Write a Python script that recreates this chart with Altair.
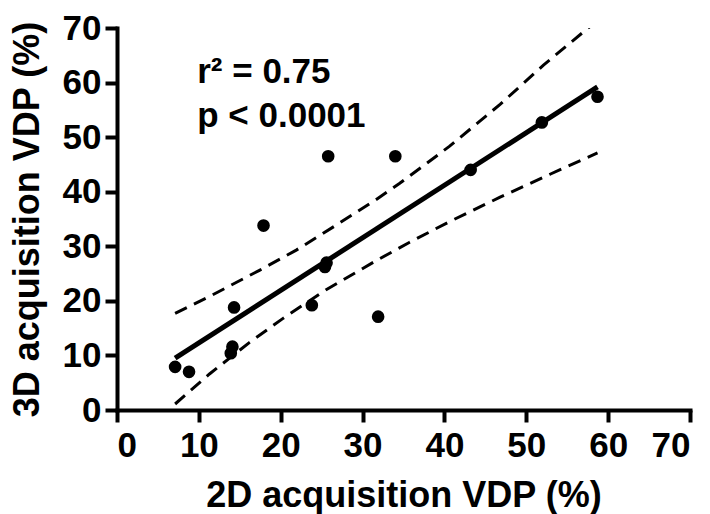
import altair as alt
import pandas as pd

# scatter data (2D vs 3D acquisition VDP, %)
x2d = [7.1, 8.8, 13.9, 14.1, 14.3, 17.9, 23.8, 25.4, 25.6, 25.8, 31.9, 34.0, 43.2, 51.9, 58.7]
y3d = [7.9, 7.0, 10.4, 11.6, 18.8, 33.8, 19.2, 26.2, 27.0, 46.5, 17.1, 46.5, 44.0, 52.7, 57.4]

# regression line end points
fit_x = [7.1, 58.7]
fit_y = [9.5, 59.2]

# 95% confidence band
up_x = [7.1, 11.3, 17.4, 21.9, 26.8, 31.6, 34.5, 40.6, 46.8, 52.1, 57.8, 58.7]
up_y = [17.7, 20.8, 25.6, 29.3, 33.9, 38.5, 41.5, 48.3, 56.0, 63.2, 70.3, 71.4]
lo_x = [7.1, 11.3, 16.2, 20.2, 25.5, 31.7, 35.7, 40.6, 46.8, 52.9, 58.7]
lo_y = [1.1, 6.6, 12.4, 16.7, 22.0, 27.4, 30.7, 34.5, 39.0, 43.2, 47.1]

ticks = [0, 10, 20, 30, 40, 50, 60, 70]

ann_text = ["r\u00b2 = 0.75", "p < 0.0001"]
ann_x = [9.8, 9.8]
ann_y = [59.9, 51.9]

FONT = "Liberation Sans"

pts = pd.DataFrame({"x": x2d, "y": y3d})
fit = pd.DataFrame({"x": fit_x, "y": fit_y})
up = pd.DataFrame({"x": up_x, "y": up_y, "o": list(range(len(up_x)))})
lo = pd.DataFrame({"x": lo_x, "y": lo_y, "o": list(range(len(lo_x)))})
ann = pd.DataFrame({"t": ann_text, "x": ann_x, "y": ann_y})

xscale = alt.Scale(domain=[0, 70], nice=False, zero=False)
yscale = alt.Scale(domain=[0, 70], nice=False, zero=False)

xaxis = alt.Axis(values=ticks, title="2D acquisition VDP (%)", titleY=96,
                 titleBaseline="alphabetic", labelPadding=6)
yaxis = alt.Axis(values=ticks, title="3D acquisition VDP (%)", titleX=-90,
                 titleAngle=270, titleBaseline="middle", labelPadding=4)

X = alt.X("x:Q", scale=xscale, axis=xaxis)
Y = alt.Y("y:Q", scale=yscale, axis=yaxis)
Xn = alt.X("x:Q", scale=xscale)
Yn = alt.Y("y:Q", scale=yscale)

points = alt.Chart(pts).mark_circle(size=160, color="black", opacity=1).encode(x=X, y=Y)
line = alt.Chart(fit).mark_line(color="black", strokeWidth=5, strokeCap="butt").encode(x=Xn, y=Yn)
upper = alt.Chart(up).mark_line(color="black", strokeWidth=3, strokeDash=[13, 8], clip=True).encode(
    x=Xn, y=Yn, order="o:Q")
lower = alt.Chart(lo).mark_line(color="black", strokeWidth=3, strokeDash=[13, 8], clip=True).encode(
    x=Xn, y=Yn, order="o:Q")
text = alt.Chart(ann).mark_text(align="left", baseline="alphabetic", font=FONT, fontSize=35,
                                fontWeight="bold", color="black").encode(x=Xn, y=Yn, text="t:N")

chart = alt.layer(upper, lower, line, points, text).properties(
    width=573, height=382,
    autosize=alt.AutoSizeParams(type="none"),
    padding={"left": 109, "top": 20, "right": 12, "bottom": 104},
).configure_view(stroke=None).configure_axis(
    grid=False,
    domainColor="black", domainWidth=4, domainCap="square",
    tickColor="black", tickWidth=4, tickSize=12,
    labelFont=FONT, labelFontSize=35, labelFontWeight="bold", labelColor="black",
    titleFont=FONT, titleFontSize=36, titleFontWeight="bold", titleColor="black",
)

chart.save("out.html", embed_options={"renderer": "svg", "actions": False})
